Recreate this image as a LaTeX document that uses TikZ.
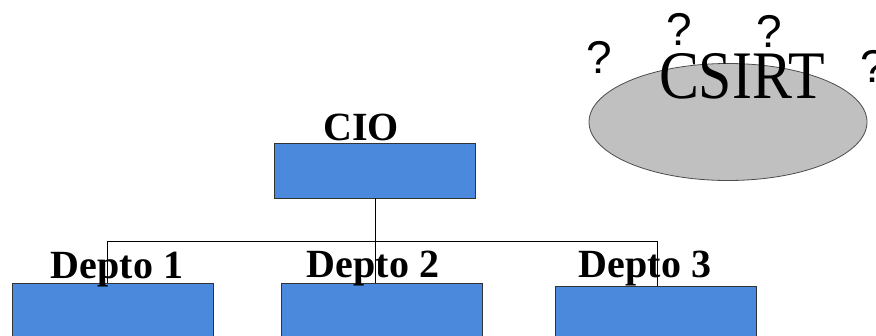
\documentclass[tikz,border=0pt]{standalone}
\usepackage{fontspec}
\setmainfont{Liberation Serif}
\newfontfamily\qfont{Liberation Sans}
\newfontfamily\csirtfont[FakeStretch=0.88]{Liberation Serif}
\usetikzlibrary{shapes.geometric}
\definecolor{boxblue}{RGB}{74,137,220}
\definecolor{csirtgray}{RGB}{192,192,192}
\begin{document}
\begin{tikzpicture}[x=1pt,y=-1pt,
  unit/.style={draw=black!80,fill=boxblue,line width=0.9pt,minimum width=201pt,inner sep=0pt},
  unitname/.style={anchor=base,inner sep=0pt,font=\fontsize{40}{40}\bfseries\selectfont},
  quest/.style={anchor=base,inner sep=0pt,font=\fontsize{46}{46}\qfont\selectfont}]
\useasboundingbox (0,0) rectangle (876,335);
\clip (0,0) rectangle (876,335);
% the CSIRT cloud
\node[ellipse,draw=black!70,fill=csirtgray,line width=0.8pt,minimum width=278pt,minimum height=117pt,inner sep=0pt] (csirt) at (728,122) {};
\node[anchor=base,inner sep=0pt,font=\fontsize{68}{68}\csirtfont\selectfont] (csirtname) at (742,98) {CSIRT};
\node[quest] (q1) at (599,73) {?};
\node[quest] (q2) at (679,45) {?};
\node[quest] (q3) at (769,47) {?};
\node[quest] (q4) at (873,82) {?};
% organisation chart
\node[unit,minimum height=55pt] (cio) at (375,170.5) {};
\node[unit,minimum height=60pt] (d1) at (113,313) {};
\node[unit,minimum height=60pt] (d2) at (382,313) {};
\node[unit,minimum height=60pt] (d3) at (655.5,316) {};
\coordinate (bus1) at (107,241);
\coordinate (bus3) at (657,241);
\draw (bus1) -- (bus3);
\draw (cio.south) -- (cio.south |- d2.north);
\draw (bus1) -- (bus1 |- d1.north);
\draw (bus3) -- (bus3 |- d3.north);
\node[unitname] (cioname) at (361,140) {CIO};
\node[unitname] (d1name) at (117,278) {Depto 1};
\node[unitname] (d2name) at (373,277) {Depto 2};
\node[unitname] (d3name) at (645,277) {Depto 3};
\end{tikzpicture}
\end{document}
